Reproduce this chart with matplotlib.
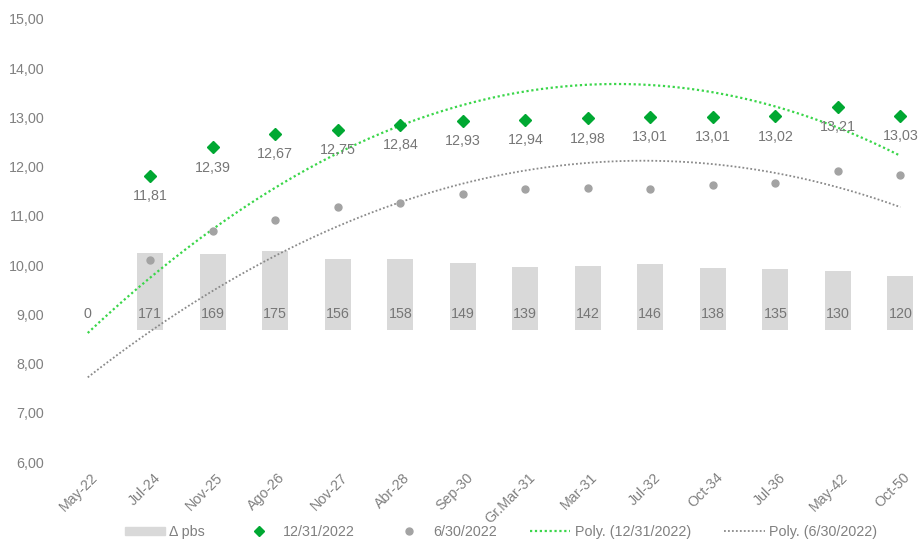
import numpy as np
import matplotlib.pyplot as plt
import matplotlib.transforms as mtransforms
from matplotlib.lines import Line2D
from matplotlib.patches import Patch

plt.rcParams["font.family"] = ["Liberation Sans", "DejaVu Sans"]

# categories (x axis)
categories = ["May-22", "Jul-24", "Nov-25", "Ago-26", "Nov-27", "Abr-28", "Sep-30",
              "Gr.Mar-31", "Mar-31", "Jul-32", "Oct-34", "Jul-36", "May-42", "Oct-50"]

# yields, in %
dec_2022 = [np.nan, 11.81, 12.39, 12.67, 12.75, 12.84, 12.93, 12.94, 12.98, 13.01, 13.01, 13.02, 13.21, 13.03]
jun_2022 = [np.nan, 10.10, 10.70, 10.92, 11.19, 11.26, 11.44, 11.55, 11.56, 11.55, 11.63, 11.67, 11.91, 11.83]

# change in basis points (bars)
delta_pbs = [0, 171, 169, 175, 156, 158, 149, 139, 142, 146, 138, 135, 130, 120]

# polynomial trendlines at each category
trend_dec = [8.62, 9.75, 10.73, 11.57, 12.27, 12.83, 13.25, 13.53, 13.67, 13.66, 13.51, 13.22, 12.79, 12.22]
trend_jun = [7.72, 8.65, 9.48, 10.19, 10.79, 11.28, 11.65, 11.92, 12.08, 12.12, 12.05, 11.87, 11.58, 11.18]

GREEN = "#00a832"
GREEN_TREND = "#3ad64a"
GRAY_DOT = "#a3a3a3"
GRAY_TREND = "#8a8a8a"
BAR = "#d9d9d9"
TEXT = "#808080"
LABEL = "#767676"
FS = 10.3

fig = plt.figure(figsize=(9.19, 5.41), dpi=100)
ax = fig.add_axes([0.065, 0.146, 0.93, 0.819])
ax2 = ax.twinx()
ax.set_zorder(ax2.get_zorder() + 1)
ax.patch.set_visible(False)

x = np.arange(len(categories))

# bars on a hidden secondary axis
ax2.bar(x, delta_pbs, width=0.42, color=BAR, zorder=1)
ax2.set_ylim(-292, 688)
ax2.axis("off")

# trendlines (2nd order, through the values)
xs = np.linspace(0, len(categories) - 1, 200)
for vals, col, lw in [(trend_dec, GREEN_TREND, 1.6), (trend_jun, GRAY_TREND, 1.3)]:
    coef = np.polyfit(x, vals, 2)
    ax.plot(xs, np.polyval(coef, xs), color=col, lw=lw, linestyle=(0, (1, 1.2)))

ax.plot(x, jun_2022, "o", color=GRAY_DOT, markersize=5, linestyle="none")
ax.plot(x, dec_2022, "D", color=GREEN, markersize=6.5, linestyle="none")

# data labels
for i, v in enumerate(dec_2022):
    if np.isnan(v):
        continue
    ax.annotate(f"{v:.2f}".replace(".", ","), (i, v), xytext=(0, -14.5),
                textcoords="offset points", ha="center", va="center",
                fontsize=FS, color=LABEL)
for i, d in enumerate(delta_pbs):
    ax.text(i, 9.0, str(d), ha="center", va="center", fontsize=FS, color=LABEL)

ax.set_xlim(-0.448, 13.225)
ax.set_ylim(6, 15)
ax.set_yticks(np.arange(6, 16, 1))
ax.set_yticklabels([f"{t:.2f}".replace(".", ",") for t in np.arange(6, 16, 1)])
ax.set_xticks(x)
ax.set_xticklabels(categories, rotation=45, ha="right", rotation_mode="anchor")
ax.tick_params(axis="y", length=0, pad=11, labelsize=FS, labelcolor=TEXT)
ax.tick_params(axis="x", length=0, pad=6, labelsize=FS, labelcolor=TEXT)
shift = mtransforms.ScaledTranslation(2 / 72, 0, fig.dpi_scale_trans)
for lbl in ax.get_xticklabels():
    lbl.set_transform(lbl.get_transform() + shift)
for s in ax.spines.values():
    s.set_visible(False)

handles = [
    Patch(color=BAR),
    Line2D([], [], marker="D", color=GREEN, linestyle="none", markersize=5.5),
    Line2D([], [], marker="o", color=GRAY_DOT, linestyle="none", markersize=5),
    Line2D([], [], color=GREEN_TREND, lw=1.6, linestyle=(0, (1, 1.2))),
    Line2D([], [], color=GRAY_TREND, lw=1.3, linestyle=(0, (1, 1.2))),
]
labels = ["\u0394 pbs", "12/31/2022", "6/30/2022", "Poly. (12/31/2022)", "Poly. (6/30/2022)"]
leg = fig.legend(handles, labels, loc="lower left", bbox_to_anchor=(0.122, -0.02),
                 ncol=5, frameon=False, fontsize=FS, handlelength=2.8,
                 handleheight=0.45, columnspacing=2.35, handletextpad=0.3)
for t in leg.get_texts():
    t.set_color(TEXT)

fig.savefig("out.png", dpi=100)
